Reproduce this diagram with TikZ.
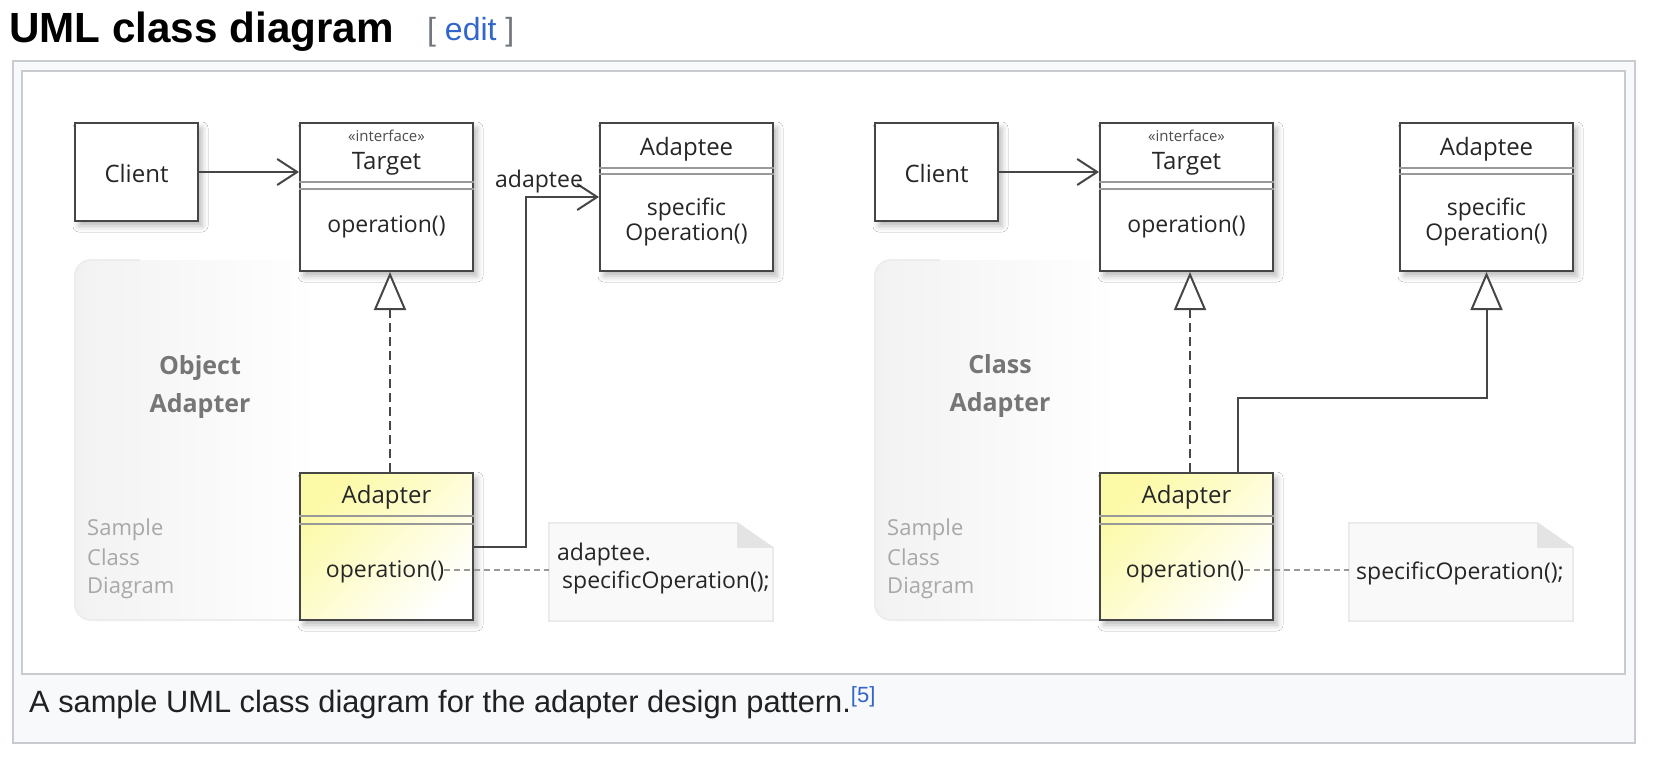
\documentclass[tikz,border=0pt]{standalone}
\usepackage{fontspec}
\setmainfont{Liberation Sans}
\newfontfamily\dia{Open Sans}
\usetikzlibrary{arrows.meta,calc,shadows.blur}
\definecolor{frame}{HTML}{C8CCD1}
\definecolor{capbg}{HTML}{F8F9FA}
\definecolor{wtext}{HTML}{202122}
\definecolor{wlink}{HTML}{3366CC}
\definecolor{brk}{HTML}{72777D}
\definecolor{umlline}{HTML}{464646}
\definecolor{grplab}{HTML}{767676}
\definecolor{smplab}{HTML}{A8A8A8}
\definecolor{notebg}{HTML}{F9F9F9}
\definecolor{noteline}{HTML}{E8E8E8}
\definecolor{fold}{HTML}{E4E4E4}
\definecolor{ylw}{HTML}{FCFAA6}
\definecolor{panelgray}{HTML}{F2F2F2}
\pgfdeclarehorizontalshading{panelfade}{100bp}{color(0bp)=(panelgray); color(25bp)=(panelgray); color(50bp)=(white); color(100bp)=(white)}
\tikzset{
  cls/.style={draw=umlline, line width=2pt, fill=white, inner sep=0pt,
    blur shadow={shadow xshift=4pt, shadow yshift=-5pt, shadow blur radius=6pt, shadow opacity=28}},
  txt/.style={inner sep=0pt, anchor=base, text=black!85, font=\dia\fontsize{23}{27}\selectfont},
  nametxt/.style={txt, font=\dia\fontsize{24}{28}\selectfont},
  stereo/.style={txt, text=black!70, font=\dia\fontsize{15}{18}\selectfont},
  grouplab/.style={inner sep=0pt, anchor=base, text=grplab, font=\dia\bfseries\fontsize{25}{30}\selectfont},
  samplelab/.style={inner sep=0pt, anchor=base west, text=smplab, font=\dia\fontsize{22}{26}\selectfont},
  sepline/.style={draw=black!40, line width=1.2pt},
  assoc/.style={draw=umlline, line width=2pt, -{Straight Barb[length=20pt,width=26pt,line width=2pt]}},
  gen/.style={draw=umlline, line width=2pt, -{Triangle[length=38pt,width=32pt,fill=white,line width=2pt]}},
  realize/.style={gen, dash pattern=on 9pt off 5pt},
  noteanchor/.style={draw=black!40, line width=1.5pt, dash pattern=on 6pt off 4pt},
  notebox/.style={inner sep=0pt, minimum width=224pt, minimum height=98pt},
}
\begin{document}
\begin{tikzpicture}[x=1pt,y=-1pt]
\useasboundingbox (0,0) rectangle (1662,758);
\fill[white] (0,0) rectangle (1662,758);
% page frame
\draw[draw=frame, fill=capbg, line width=2pt] (13,61) rectangle (1635,743);
\draw[draw=frame, fill=white, line width=2pt] (22,71) rectangle (1625,674);
% heading and caption
\node[anchor=base west, inner sep=0pt, text=black, font=\bfseries\fontsize{42.2}{48}\selectfont] (title) at (9,42) {UML class diagram};
\node[anchor=base west, inner sep=0pt, text=brk, font=\fontsize{32}{38}\selectfont] (edit) at (427,40) {[ \textcolor{wlink}{edit} ]};
\node[anchor=base west, inner sep=0pt, text=wtext, font=\fontsize{30.8}{36}\selectfont] (caption) at (29,712)
  {A sample UML class diagram for the adapter design pattern.\raisebox{10pt}{\fontsize{22}{26}\selectfont\textcolor{wlink}{[5]}}};

\foreach \nm/\dx in {L/0,R/800}{
  % background panel (fades out to the right)
  \shade[shading=panelfade, rounded corners=16pt] (75+\dx,260) rectangle (560+\dx,620);
  \draw[black!7, line width=2pt, rounded corners=16pt] (140+\dx,260) -- (75+\dx,260) -- (75+\dx,620) -- (300+\dx,620);
  \node[samplelab] (sample\nm) at (87+\dx,535) {Sample};
  \node[samplelab] (class\nm) at (87+\dx,565) {Class};
  \node[samplelab] (diagram\nm) at (87+\dx,593) {Diagram};
  % note
  \node[notebox] (note\nm) at (661+\dx,572) {};
  \filldraw[fill=notebg, draw=noteline, line width=1.5pt] (note\nm.north west) -- ([xshift=-36pt]note\nm.north east) -- ([yshift=-25pt]note\nm.north east) -- (note\nm.south east) -- (note\nm.south west) -- cycle;
  \fill[fold] ([xshift=-36pt]note\nm.north east) -- ([xshift=-36pt,yshift=-25pt]note\nm.north east) -- ([yshift=-25pt]note\nm.north east) -- cycle;
  % Client
  \node[cls, minimum width=123pt, minimum height=98pt] (client\nm) at (136.5+\dx,172) {};
  \node[nametxt] (clientname\nm) at (136.5+\dx,182) {Client};
  % Target
  \node[cls, minimum width=173pt, minimum height=148pt] (target\nm) at (386.5+\dx,197) {};
  \node[stereo] (stereo\nm) at (386.5+\dx,141) {«interface»};
  \node[nametxt] (targetname\nm) at (386.5+\dx,169) {Target};
  \draw[sepline] ($(target\nm.north west)+(0,60)$) -- ($(target\nm.north east)+(0,60)$);
  \draw[sepline] ($(target\nm.north west)+(0,67)$) -- ($(target\nm.north east)+(0,67)$);
  \node[txt] (targetop\nm) at (386.5+\dx,232) {operation()};
  % Adaptee
  \node[cls, minimum width=173pt, minimum height=148pt] (adaptee\nm) at (686.5+\dx,197) {};
  \node[nametxt] (adapteename\nm) at (686.5+\dx,155) {Adaptee};
  \draw[sepline] ($(adaptee\nm.north west)+(0,46)$) -- ($(adaptee\nm.north east)+(0,46)$);
  \draw[sepline] ($(adaptee\nm.north west)+(0,52)$) -- ($(adaptee\nm.north east)+(0,52)$);
  \node[txt] (spec\nm) at (686.5+\dx,215) {specific};
  \node[txt] (specop\nm) at (686.5+\dx,240) {Operation()};
  % Adapter
  \node[cls, left color=ylw, right color=white, shading angle=45, minimum width=173pt, minimum height=147pt] (adapter\nm) at (386.5+\dx,546.5) {};
  \node[nametxt] (adaptername\nm) at (386.5+\dx,503) {Adapter};
  \draw[sepline] ($(adapter\nm.north west)+(0,44)$) -- ($(adapter\nm.north east)+(0,44)$);
  \draw[sepline] ($(adapter\nm.north west)+(0,52)$) -- ($(adapter\nm.north east)+(0,52)$);
  \node[txt] (adapterop\nm) at (385+\dx,577) {operation()};
  % connectors
  \draw[assoc] (client\nm.east) -- (client\nm.east -| target\nm.west);
  \draw[realize] ([xshift=3.5pt]adapter\nm.north) -- ([xshift=3.5pt]target\nm.south);
  \coordinate (opend\nm) at (adapterop\nm.east |- 0,570);
  \draw[noteanchor] (opend\nm) -- (note\nm.west |- opend\nm);
}
% object adapter specifics
\node[grouplab] (objA) at (200,374) {Object};
\node[grouplab] (objB) at (200,412) {Adapter};
\coordinate (bendL) at (526,197);
\draw[assoc] (adapterL.east) -| (bendL) -- (adapteeL.west);
\node[txt, anchor=base west] (adlabel) at (495,187) {adaptee};
\node[txt, anchor=base west] (noteL1) at (557,560) {adaptee.};
\node[txt, anchor=base west] (noteL2) at (562,588) {specificOperation();};
% class adapter specifics
\node[grouplab] (clsA) at (1000,373) {Class};
\node[grouplab] (clsB) at (1000,411) {Adapter};
\draw[gen] ([xshift=51.5pt]adapterR.north) |- ($(adapteeR.south)+(0,126)$) -- (adapteeR.south);
\node[txt, anchor=base west] (noteR1) at (1356,579) {specificOperation();};
\end{tikzpicture}
\end{document}
